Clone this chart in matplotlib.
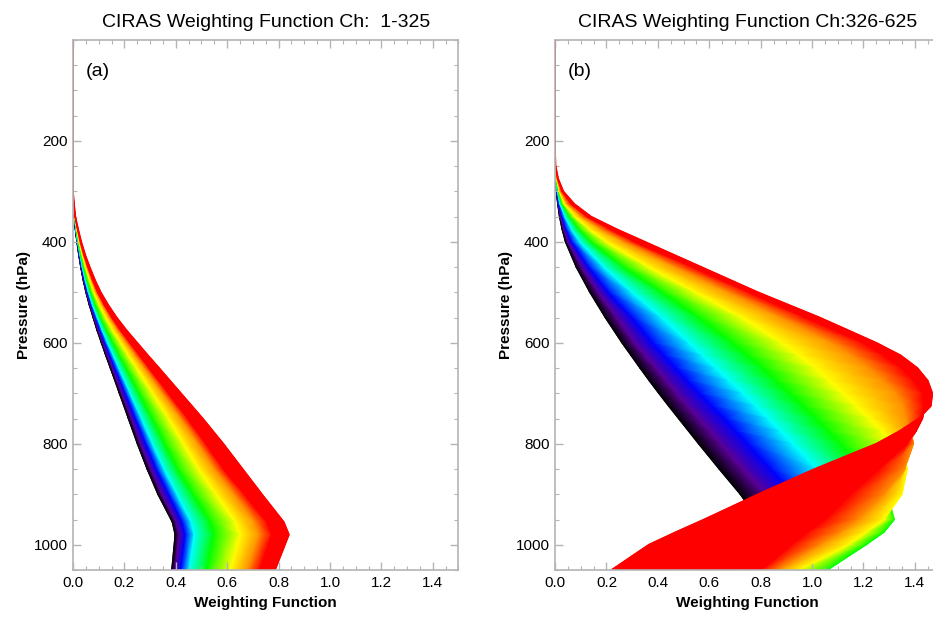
import numpy as np
import matplotlib.pyplot as plt
from matplotlib.colors import LinearSegmentedColormap
from matplotlib.ticker import MultipleLocator

plt.rcParams['font.family'] = ['Liberation Sans', 'DejaVu Sans']

# colours of the sampled channels (IDL style rainbow: black -> red)
key_colors = ['#000000', '#5a0096', '#0000ff', '#00ffff', '#00ff00',
              '#ffff00', '#ff9000', '#ff0000', '#ff0000']

# ---- panel (a): channels 1-325 ----
# one row per pressure level, one column per sampled channel (first -> last)
p_a = [0, 300, 325, 350, 375, 400, 425, 450, 475, 500, 525, 550, 575, 600,
       625, 650, 700, 750, 800, 850, 900, 955, 980, 1050]
wf_a_rows = [
    [0, 0, 0, 0, 0, 0, 0, 0, 0],
    [0, 0, 0, 0, 0, 0, 0, 0, 0],
    [0, 0, 0, 0.001, 0.001, 0.002, 0.003, 0.003, 0.004],
    [0.005, 0.005, 0.005, 0.006, 0.006, 0.007, 0.008, 0.008, 0.009],
    [0.009, 0.009, 0.010, 0.011, 0.013, 0.015, 0.017, 0.018, 0.020],
    [0.015, 0.016, 0.017, 0.018, 0.020, 0.024, 0.027, 0.029, 0.032],
    [0.022, 0.023, 0.025, 0.027, 0.030, 0.036, 0.040, 0.042, 0.047],
    [0.030, 0.031, 0.034, 0.036, 0.041, 0.049, 0.055, 0.058, 0.065],
    [0.039, 0.041, 0.044, 0.047, 0.054, 0.064, 0.072, 0.076, 0.085],
    [0.050, 0.052, 0.056, 0.060, 0.069, 0.081, 0.091, 0.096, 0.108],
    [0.063, 0.066, 0.070, 0.076, 0.087, 0.103, 0.116, 0.122, 0.137],
    [0.078, 0.082, 0.087, 0.095, 0.107, 0.128, 0.143, 0.152, 0.170],
    [0.093, 0.098, 0.105, 0.114, 0.130, 0.155, 0.175, 0.185, 0.208],
    [0.110, 0.116, 0.124, 0.135, 0.155, 0.186, 0.209, 0.222, 0.250],
    [0.127, 0.134, 0.144, 0.157, 0.180, 0.216, 0.244, 0.259, 0.292],
    [0.145, 0.153, 0.164, 0.179, 0.206, 0.248, 0.280, 0.297, 0.335],
    [0.180, 0.190, 0.204, 0.223, 0.257, 0.310, 0.350, 0.372, 0.420],
    [0.215, 0.227, 0.244, 0.267, 0.308, 0.372, 0.421, 0.447, 0.505],
    [0.250, 0.263, 0.284, 0.310, 0.357, 0.431, 0.488, 0.518, 0.585],
    [0.288, 0.303, 0.325, 0.355, 0.407, 0.489, 0.552, 0.586, 0.660],
    [0.330, 0.346, 0.373, 0.405, 0.468, 0.557, 0.628, 0.668, 0.735],
    [0.386, 0.401, 0.425, 0.460, 0.534, 0.633, 0.707, 0.755, 0.820],
    [0.397, 0.413, 0.437, 0.472, 0.548, 0.650, 0.725, 0.774, 0.840],
    [0.384, 0.398, 0.420, 0.452, 0.521, 0.613, 0.681, 0.726, 0.786],
]

# ---- panel (b): channels 326-625 ----
p_b = [0, 225, 250, 275, 300, 325, 350, 375, 400, 450, 500, 550, 600, 625,
       650, 675, 700, 725, 750, 775, 800, 850, 900, 950, 975, 1000, 1050]
wf_b_rows = [
    [0, 0, 0, 0, 0, 0, 0, 0, 0],
    [0, 0, 0, 0, 0, 0, 0, 0, 0],
    [0, 0, 0, 0, 0, 0.001, 0.001, 0.002, 0.002],
    [0.001, 0.001, 0.002, 0.003, 0.004, 0.006, 0.008, 0.010, 0.012],
    [0.005, 0.006, 0.007, 0.009, 0.012, 0.016, 0.021, 0.027, 0.032],
    [0.010, 0.012, 0.014, 0.019, 0.026, 0.036, 0.049, 0.063, 0.075],
    [0.017, 0.021, 0.027, 0.039, 0.056, 0.078, 0.104, 0.125, 0.140],
    [0.027, 0.034, 0.043, 0.064, 0.093, 0.134, 0.180, 0.215, 0.240],
    [0.040, 0.050, 0.065, 0.097, 0.140, 0.200, 0.270, 0.310, 0.350],
    [0.082, 0.103, 0.131, 0.190, 0.268, 0.366, 0.470, 0.535, 0.570],
    [0.135, 0.168, 0.208, 0.300, 0.418, 0.548, 0.678, 0.756, 0.790],
    [0.195, 0.241, 0.300, 0.416, 0.560, 0.728, 0.882, 0.975, 1.030],
    [0.260, 0.309, 0.380, 0.522, 0.690, 0.884, 1.080, 1.200, 1.250],
    [0.295, 0.351, 0.425, 0.574, 0.749, 0.950, 1.155, 1.280, 1.345],
    [0.330, 0.393, 0.470, 0.626, 0.808, 1.015, 1.222, 1.350, 1.410],
    [0.366, 0.433, 0.516, 0.679, 0.860, 1.068, 1.278, 1.398, 1.450],
    [0.403, 0.473, 0.563, 0.732, 0.913, 1.121, 1.328, 1.432, 1.468],
    [0.441, 0.516, 0.611, 0.781, 0.964, 1.174, 1.355, 1.435, 1.462],
    [0.480, 0.560, 0.660, 0.830, 1.015, 1.226, 1.368, 1.430, 1.415],
    [0.519, 0.603, 0.705, 0.878, 1.062, 1.275, 1.385, 1.405, 1.340],
    [0.558, 0.645, 0.750, 0.925, 1.110, 1.320, 1.395, 1.370, 1.250],
    [0.638, 0.730, 0.840, 1.020, 1.200, 1.370, 1.360, 1.260, 1.010],
    [0.720, 0.820, 0.930, 1.100, 1.280, 1.350, 1.280, 1.150, 0.790],
    [0.790, 0.870, 0.970, 1.110, 1.320, 1.280, 1.180, 1.050, 0.580],
    [0.820, 0.890, 0.970, 1.090, 1.280, 1.210, 1.110, 0.980, 0.470],
    [0.835, 0.895, 0.960, 1.050, 1.210, 1.140, 1.030, 0.920, 0.365],
    [0.800, 0.850, 0.910, 0.970, 1.060, 0.950, 0.870, 0.800, 0.220],
]

titles = ['CIRAS Weighting Function Ch:  1-325', 'CIRAS Weighting Function Ch:326-625']
tags = ['(a)', '(b)']

cmap = LinearSegmentedColormap.from_list('ciras', key_colors)
n_key = len(key_colors)

fig = plt.figure(figsize=(9.33, 6.17), dpi=100)
ax_a = fig.add_axes([0.0782, 0.0762, 0.4132, 0.859])
ax_b = fig.add_axes([0.5949, 0.0762, 0.4132, 0.859])

for ax, p, rows, title, tag in zip([ax_a, ax_b], [p_a, p_b], [wf_a_rows, wf_b_rows], titles, tags):
    p = np.array(p, dtype=float)
    wf = np.array(rows).T          # one row per sampled channel
    ax.plot(wf[0], p, color=key_colors[0], lw=0.6, zorder=1)
    # bands between neighbouring channels, later channels drawn on top
    for j in range(n_key - 1):
        z = 1 + 0.1 * (j + 1)
        X = np.column_stack([wf[j], wf[j + 1]])
        Y = np.column_stack([p, p])
        C = np.column_stack([np.full(len(p), j / (n_key - 1)),
                             np.full(len(p), (j + 1) / (n_key - 1))])
        ax.pcolormesh(X, Y, C, shading='gouraud', cmap=cmap, vmin=0, vmax=1, zorder=z)
        ax.plot(wf[j + 1], p, color=key_colors[j + 1], lw=0.6, zorder=z + 0.05)
    ax.plot(wf[-1], p, color='red', lw=1.3, zorder=3)

    ax.set_xlim(0, 1.5)
    ax.set_ylim(1050, 0)
    ax.set_xticks([0, 0.2, 0.4, 0.6, 0.8, 1.0, 1.2, 1.4])
    ax.set_xticklabels(['0.0', '0.2', '0.4', '0.6', '0.8', '1.0', '1.2', '1.4'])
    ax.set_yticks([200, 400, 600, 800, 1000])
    ax.xaxis.set_minor_locator(MultipleLocator(0.05))
    ax.yaxis.set_minor_locator(MultipleLocator(50))
    ax.tick_params(which='both', direction='in', top=True, right=True,
                   color='#b4b4b4', labelsize=11, labelcolor='black')
    ax.tick_params(which='major', length=6, width=1, pad=4)
    ax.tick_params(which='minor', length=3, width=0.8)
    for s in ax.spines.values():
        s.set_color('#b4b4b4')
        s.set_linewidth(1.2)
        s.set_zorder(4)
    ax.set_title(title, fontsize=14, pad=9)
    ax.set_xlabel('Weighting Function', fontsize=11, fontweight='bold', labelpad=5)
    ax.set_ylabel('Pressure (hPa)', fontsize=11, fontweight='bold', labelpad=2)
    ax.text(0.05, 63, tag, fontsize=14, ha='left', va='center')

fig.savefig('out.png', dpi=100)
